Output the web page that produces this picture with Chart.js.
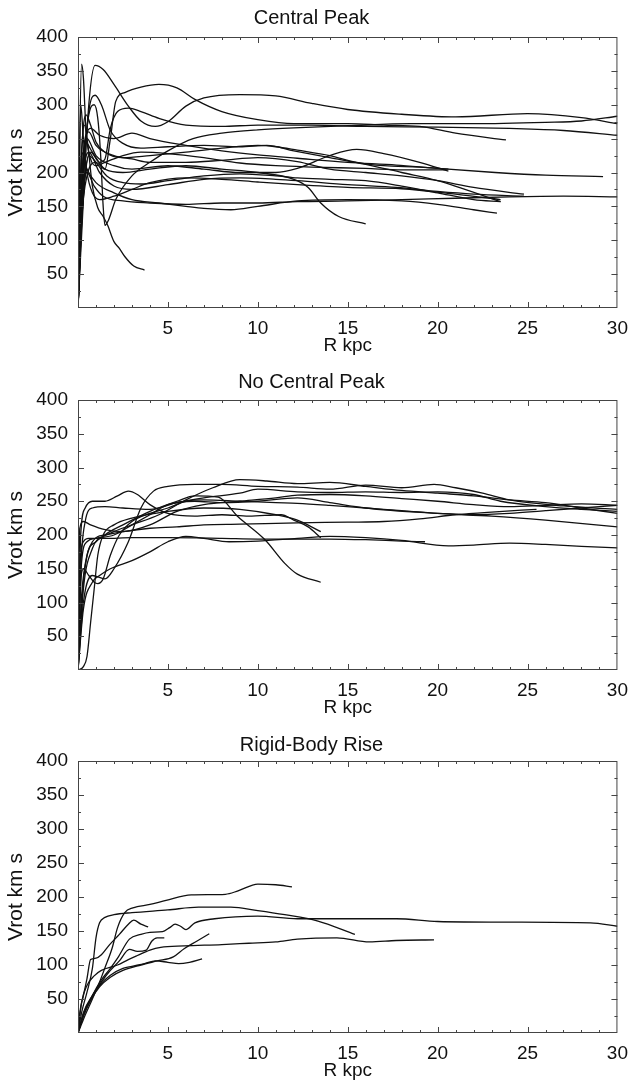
<!DOCTYPE html>
<html>
<head>
<meta charset="utf-8">
<title>Rotation curves</title>
<script src="https://cdn.jsdelivr.net/npm/chart.js@4.4.1/dist/chart.umd.min.js"></script>
<style>
  html, body { margin: 0; padding: 0; background: #fff; }
  canvas { display: block; }
</style>
</head>
<body>
<canvas id="panel1" width="637" height="362"></canvas>
<canvas id="panel2" width="637" height="362"></canvas>
<canvas id="panel3" width="637" height="363"></canvas>
<script>
/* ── Data: [R kpc, Vrot km/s] ── */

// Central Peak
const cpA = [[0,0],[0.3,160],[0.6,300],[0.95,358],[1.4,352],[2,330],[2.8,298],[3.5,276],[4.3,268],[5,275],[6,298],[7,310],[9,315],[11,313],[13,302],[15,293],[18,286],[21,282],[25,287],[28,281],[30,272]];
const cpB = [[0,0],[0.2,130],[0.5,195],[1,215],[1.5,205],[1.8,250],[2.1,305],[2.6,318],[3.5,326],[4.5,330],[5.5,325],[6.5,308],[8,290],[10,278],[12,272],[15,272],[17,270],[19,268],[21,258],[23.8,248]];
const cpC = [[0,0],[0.3,190],[0.6,290],[0.95,314],[1.3,300],[1.8,262],[2.5,243],[3.5,236],[5,238],[7,240],[9,238],[10.5,240],[12,232],[14,222],[16,212],[18,200],[20,188],[23.5,157]];
const cpD = [[0,0],[0.15,200],[0.35,270],[0.55,240],[0.8,180],[1.1,148],[1.4,135],[1.65,122],[2,98],[2.3,88],[2.6,76],[3.1,62],[3.7,56]];
const cpE = [[0,0],[0.3,200],[0.6,285],[0.9,300],[1.1,280],[1.25,230],[1.4,150],[1.5,122],[1.7,130],[2.1,160],[3,195],[4,215],[5,232],[6.4,250],[8,258],[10,263],[12,266],[15,269],[18.5,272],[22,272],[26,274],[28,276],[30,283]];
const cpF = [[0,0],[0.3,170],[0.7,230],[1.2,215],[1.5,220],[1.8,265],[2.2,290],[2.8,295],[3.5,290],[4.5,280],[6,270],[8,268],[10,270],[13,270],[16,268],[20,267],[24,265],[27,262],[30,255]];
const cpG = [[0,0],[0.3,210],[0.7,265],[1.2,255],[2,250],[3,258],[4,250],[6,240],[8,232],[10,226],[12.2,221],[15,215],[17.7,211],[20,206],[23.2,200],[26,196],[29.2,194]];
const cpH = [[0,0],[0.2,150],[0.5,200],[0.9,180],[1.4,165],[2.5,158],[4,155],[6,153],[8,155],[10,155],[12.2,157],[15,158],[18,160],[21,162],[24,164],[27,165],[30,164]];
const cpI = [[0,0],[0.2,230],[0.5,205],[1,185],[2,170],[3,160],[4.5,155],[6,150],[7,147],[8.5,145],[10,150],[12.2,158],[15,160],[18,158],[20,153],[22,145],[23.3,140]];
const cpJ = [[0,0],[0.2,180],[0.4,245],[0.8,230],[1.5,205],[2.5,200],[4,205],[6,210],[8,205],[10,200],[12,190],[12.8,178],[13.5,155],[14.5,135],[16,124]];
const cpK = [[0,0],[0.25,200],[0.5,250],[1,225],[2,210],[3,205],[5,210],[7,205],[9,200],[11,200],[12.2,206],[14,225],[15.5,234],[17,228],[19,215],[20.6,202]];
const cpL = [[0,0],[0.2,160],[0.6,230],[1.2,200],[2,180],[3,175],[5,182],[7,190],[9,192],[11,190],[12.2,188],[15,182],[17.7,178],[20,172],[22,168],[24.8,165]];
const cpM = [[0,0],[0.3,230],[0.6,260],[1,240],[2,225],[3,220],[4,215],[6,215],[8,218],[10,222],[12.2,216],[14,205],[16,200],[18,195],[20,188],[22,178],[24.8,168]];
const cpN = [[0,0],[0.1,250],[0.2,360],[0.3,340],[0.45,260],[0.7,220],[1,210],[1.5,215],[2.5,225],[3.5,230],[5,228],[7,222],[9,214],[11,210],[13,208],[16,206],[18,204],[20.5,204]];
const cpO = [[0,0],[0.15,300],[0.3,250],[0.5,200],[0.8,170],[1.2,160],[2,165],[3,175],[4,185],[6,192],[8,190],[10,186],[12.2,182],[15,178],[18,176],[21,168],[23.5,160]];
const cpP = [[0,0],[0.2,220],[0.45,285],[0.7,270],[1,245],[1.5,230],[2.5,222],[4,225],[6,230],[8,236],[10,240],[11,238],[12.2,233],[14,225],[15.5,215],[17,210],[19,208],[20.6,205]];
const cpQ = [[0,0],[0.15,100],[0.35,180],[0.6,225],[1,215],[1.6,195],[2.5,185],[3.5,183],[5,188],[7,195],[9,198],[11,195],[12.2,192],[14,190],[16,188],[18,180],[20,170],[22,160],[23.5,157]];

// No Central Peak
const ncA = [[0,0],[0.2,110],[0.5,170],[1,190],[2,205],[3,215],[4.5,230],[6,252],[7.5,270],[9,282],[10.5,280],[12.2,276],[14,278],[16,272],[18,266],[20,262],[22,258],[24,252],[26,248],[28,240],[30,232]];
const ncB = [[0,0],[0.3,100],[0.8,140],[1.5,135],[2,150],[2.8,190],[3.5,240],[4.2,265],[5,272],[6.5,275],[8,275],[10,272],[12.2,271],[14,268],[16,274],[18,270],[19.8,275],[21,270],[22.5,262],[24,252],[27,243],[30,238]];
const ncC = [[0,0],[0.15,200],[0.4,240],[0.8,250],[1.5,250],[2.2,258],[2.8,265],[3.3,260],[4,245],[5,232],[6.5,228],[8,230],[9.5,228],[11.3,230],[12,222],[12.8,212],[13.5,196]];
const ncD = [[0,0],[0.15,150],[0.4,220],[0.8,240],[1.5,242],[2.5,240],[4,238],[5.5,248],[7,255],[9,262],[10,268],[12.2,264],[14,263],[16,264],[18,263],[20,264],[22,260],[23.5,250],[26,242],[28,238],[30,235]];
const ncE = [[0,0],[0.1,210],[0.3,220],[0.7,215],[1.5,208],[2.5,205],[4,215],[5.5,235],[7,245],[9,250],[11,255],[12.2,259],[14,260],[16,258],[18,254],[20,250],[22,245],[24,242],[26,244],[28,246],[30,244]];
const ncF = [[0,0],[0.2,160],[0.5,190],[1,195],[2,200],[3,215],[4,230],[5,245],[6.5,250],[8,248],[10,250],[12.2,255],[14,248],[16,240],[20,232],[23,228],[26,222],[30,212]];
const ncG = [[0,0],[0.3,130],[0.8,190],[1.5,200],[2.5,205],[4,210],[5.5,212],[7,215],[9,216],[12.2,218],[15,219],[17,220],[19,224],[21,230],[23,234],[25.5,238]];
const ncH = [[0,0],[0.3,120],[0.8,180],[1.5,200],[2.5,215],[4,235],[5.5,250],[6.5,258],[7.8,256],[8.9,227],[10.4,193],[11.5,158],[12.2,142],[13.5,130]];
const ncI = [[0,0],[0.1,150],[0.3,190],[0.6,195],[1.5,195],[3,196],[5,196],[8,195],[10,194],[12.2,194],[14,194],[16,193],[18,191],[19.3,190]];
const ncJ = [[0,0],[0.3,90],[0.8,130],[1.2,140],[1.8,150],[3,162],[4,175],[5,190],[6,198],[7,195],[8.4,190],[10,191],[12.2,195],[14,198],[16,196],[18,192],[20.6,184],[22,185],[24,188],[26,186],[28,183],[30,181]];
const ncK = [[0,0],[0.3,5],[0.5,20],[0.7,70],[0.9,120],[1.1,170],[1.4,200],[2,215],[3,225],[5,235],[7,240],[9,238],[11,230],[12.2,222],[13.5,205]];
const ncL = [[0,0],[0.15,130],[0.3,150],[0.6,140],[0.9,130],[1.1,128],[1.4,135],[1.8,170],[2.3,200],[3,220],[4,232],[5,240],[6,250],[7,252],[9,250],[11,248],[12.2,247],[14,244],[16,240],[18,236],[20,232],[22,230],[24,232],[26,236],[28,240],[30,244]];

// Rigid-Body Rise
const rbA = [[0,0],[0.3,20],[0.8,50],[1.2,75],[1.5,96],[1.9,125],[2.2,155],[2.6,177],[3.05,184],[4,189],[4.9,195],[6.3,203],[8.2,204],[8.9,209],[10,219],[11,218],[11.9,215]];
const rbB = [[0,0],[0.2,30],[0.5,60],[0.8,95],[1.0,140],[1.2,162],[1.5,170],[2,174],[3,177],[5,181],[6.7,185],[8.5,185],[10,180],[11.5,174],[13.3,165],[15.4,145]];
const rbC = [[0,0],[0.3,25],[0.8,55],[1.3,78],[1.8,95],[2.2,110],[2.86,138],[3.5,145],[4,148],[4.7,149],[5.1,155],[5.4,160],[5.7,157],[6.0,152],[6.5,162],[7.6,168],[10,172],[12.2,168],[15,168],[17.7,168],[20,164],[24,163],[28.5,162],[30,157]];
const rbD = [[0,0],[0.1,30],[0.3,55],[0.5,80],[0.7,108],[1.0,110],[1.3,115],[1.76,130],[2.3,145],[2.8,160],[3.1,166],[3.5,160],[3.9,156]];
const rbE = [[0,0],[0.3,30],[0.8,55],[1.3,75],[1.8,92],[2.3,106],[2.86,123],[3.3,120],[3.8,122],[4.1,135],[4.4,140],[4.8,140]];
const rbF = [[0,0],[0.3,25],[0.7,48],[1.2,68],[1.8,82],[2.5,92],[3.5,100],[4.4,106],[5.3,112],[5.9,124],[6.6,135],[7.3,146]];
const rbG = [[0,0],[0.3,28],[0.7,50],[1.2,70],[1.8,85],[2.5,95],[3,98],[3.7,102],[4.3,106],[5,104],[5.6,102],[6.2,104],[6.9,109]];
const rbH = [[0,0],[0.2,45],[0.5,70],[0.9,84],[1.3,92],[2.2,100],[2.8,108],[3.3,114],[4,122],[4.6,126],[5.9,128],[8,130],[9.5,132],[11,134],[12.2,138],[14.4,140],[16.2,134],[17.7,136],[19.8,137]];

const centralPeak = [cpA, cpB, cpC, cpD, cpE, cpF, cpG, cpH, cpI, cpJ, cpK, cpL, cpM, cpN, cpO, cpP, cpQ];
const noCentralPeak = [ncA, ncB, ncC, ncD, ncE, ncF, ncG, ncH, ncI, ncJ, ncK, ncL];
const rigidBody = [rbA, rbB, rbC, rbD, rbE, rbF, rbG, rbH];

const xTicks = [5, 10, 15, 20, 25, 30];
const yTicks = [50, 100, 150, 200, 250, 300, 350, 400];

const FONT = "'Liberation Sans', Arial, Helvetica, sans-serif";

/* ── Frame with inward ticks (Mathematica style) ── */
const frameTicks = {
    id: 'frameTicks',
    afterDatasetsDraw(chart) {
        const { ctx, chartArea: a, scales: { x, y } } = chart;
        ctx.save();
        ctx.strokeStyle = '#444';
        ctx.lineWidth = 1;
        ctx.strokeRect(a.left + 0.5, a.top + 0.5, a.width - 1, a.height - 1);
        ctx.beginPath();
        for (let r = 1; r < 30; r++) {
            const px = Math.round(x.getPixelForValue(r)) + 0.5;
            const len = r % 5 === 0 ? 6 : 3;
            ctx.moveTo(px, a.bottom); ctx.lineTo(px, a.bottom - len);
            ctx.moveTo(px, a.top); ctx.lineTo(px, a.top + len);
        }
        for (let v = 25; v < 400; v += 25) {
            const py = Math.round(y.getPixelForValue(v)) + 0.5;
            const len = v % 50 === 0 ? 6 : 3;
            ctx.moveTo(a.left, py); ctx.lineTo(a.left + len, py);
            ctx.moveTo(a.right, py); ctx.lineTo(a.right - len, py);
        }
        ctx.stroke();
        ctx.restore();
    }
};

function makePanel(id, title, curves, titlePad) {
    const ctx = document.getElementById(id);
    new Chart(ctx, {
        type: 'scatter',
        data: {
            datasets: curves.map(pts => ({
                data: pts.map(([r, v]) => ({ x: r, y: v })),
                showLine: true,
                borderColor: '#111',
                borderWidth: 1.3,
                pointRadius: 0,
                pointHoverRadius: 0,
                cubicInterpolationMode: 'monotone',
                fill: false,
            }))
        },
        options: {
            responsive: false,
            animation: false,
            devicePixelRatio: 1,
            layout: { padding: { left: 0, right: 14, top: 0, bottom: 0 } },
            plugins: {
                legend: { display: false },
                tooltip: { enabled: false },
                title: {
                    display: true,
                    text: title,
                    color: '#111',
                    font: { family: FONT, size: 20, weight: 'normal' },
                    padding: titlePad,
                }
            },
            scales: {
                x: {
                    type: 'linear',
                    min: 0,
                    max: 30,
                    afterBuildTicks: (s) => { s.ticks = [0].concat(xTicks).map(v => ({ value: v })); },
                    ticks: {
                        color: '#111',
                        padding: 9,
                        maxRotation: 0,
                        font: { family: FONT, size: 19 },
                        callback: (v) => xTicks.includes(v) ? String(v) : '',
                    },
                    grid: { display: false, drawTicks: false },
                    border: { display: false },
                    title: {
                        display: true,
                        text: 'R kpc',
                        color: '#111',
                        font: { family: FONT, size: 19 },
                        padding: { top: 0, bottom: 5 },
                    },
                    afterFit: (s) => { s.height = 54; },
                },
                y: {
                    type: 'linear',
                    min: 0,
                    max: 400,
                    afterBuildTicks: (s) => { s.ticks = [0].concat(yTicks).map(v => ({ value: v })); },
                    ticks: {
                        color: '#111',
                        padding: 10,
                        font: { family: FONT, size: 19 },
                        callback: (v) => yTicks.includes(v) ? String(v) : '',
                    },
                    grid: { display: false, drawTicks: false },
                    border: { display: false },
                    title: {
                        display: true,
                        text: 'Vrot km s',
                        color: '#111',
                        font: { family: FONT, size: 21 },
                        padding: { top: 4, bottom: 0 },
                    },
                    afterFit: (s) => { s.width = 78; },
                }
            }
        },
        plugins: [frameTicks]
    });
}

document.addEventListener('DOMContentLoaded', () => {
    makePanel('panel1', 'Central Peak', centralPeak, { top: 6, bottom: 7 });
    makePanel('panel2', 'No Central Peak', noCentralPeak, { top: 8, bottom: 6 });
    makePanel('panel3', 'Rigid-Body Rise', rigidBody, { top: 9, bottom: 4 });
});
</script>
</body>
</html>
